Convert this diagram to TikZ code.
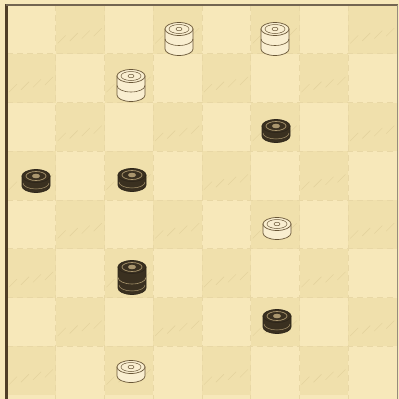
\documentclass[tikz,border=0pt]{standalone}
\begin{document}
\begin{tikzpicture}[x=1pt,y=-1pt]
\definecolor{paper}{RGB}{247,232,186}
\definecolor{darksq}{RGB}{240,224,172}
\definecolor{gridc}{RGB}{232,215,165}
\definecolor{hatchc}{RGB}{226,208,155}
\definecolor{frame}{RGB}{80,62,38}
\definecolor{wfill}{RGB}{249,238,208}
\definecolor{wline}{RGB}{105,86,55}
\definecolor{bfill}{RGB}{58,48,32}
\definecolor{bring}{RGB}{170,150,110}
\tikzset{
  whitebody/.style={fill=wfill,draw=wline,line width=0.7pt},
  blackbody/.style={fill=bfill,draw=bfill!80!black,line width=0.7pt},
  gridline/.style={draw=gridc,line width=0.6pt,dash pattern=on 6pt off 4pt},
  hatch/.style={draw=hatchc,line width=0.4pt}
}
\fill[paper] (0,0) rectangle (399,399);
\useasboundingbox (0,0) rectangle (399,399);
% dark squares
\foreach \r in {0,...,7}{
  \foreach \c in {0,...,7}{
    \pgfmathtruncatemacro{\odd}{mod(\r+\c,2)}
    \ifnum\odd=1
      \fill[darksq] ({7+48.75*\c},{5+48.75*\r}) rectangle ++(48.75,48.75);
      \begin{scope}[shift={({7+48.75*\c},{5+48.75*\r})}]
        \foreach \s in {8,20,32,44}{
          \draw[hatch] ({\s-6},{40-\s*0.2}) -- ({\s+2},{32-\s*0.2});
        }
      \end{scope}
    \fi
  }
}
% faint grid
\foreach \i in {1,...,7}{
  \draw[gridline] ({7+48.75*\i},5) -- ({7+48.75*\i},399);
  \draw[gridline] (7,{5+48.75*\i}) -- (397,{5+48.75*\i});
}
% frame
\draw[frame,line width=2.6pt] (6.5,4) -- (6.5,399);
\draw[frame!80,line width=1.4pt] (5.5,4.8) -- (397.5,4.8);
\draw[frame!60,line width=0.9pt] (397,4.8) -- (397,399);
% white pieces: x, y, side height
\foreach \px/\py/\h in {179/29/20, 275/29/20, 131/76/19, 277/224/9, 131/367/9}{
  \begin{scope}[shift={(\px,\py)}]
    \path[whitebody] (-14,0) -- (-14,\h) arc[start angle=180,end angle=0,x radius=14,y radius=6.5] -- (14,0) -- cycle;
    \ifnum\h>15
      \draw[wline,line width=0.6pt] (-14,{\h/2}) arc[start angle=180,end angle=0,x radius=14,y radius=6.5];
    \fi
    \path[whitebody] (0,0) ellipse[x radius=14,y radius=6.5];
    \draw[wline,line width=0.5pt] (0,0) ellipse[x radius=10,y radius=4.5];
    \draw[wline,line width=0.5pt] (0,0) ellipse[x radius=3,y radius=1.8];
  \end{scope}
}
% black pieces
\foreach \px/\py/\h in {276/126/10, 36/176/10, 132/175/10, 132/267/21, 277/316/11}{
  \begin{scope}[shift={(\px,\py)}]
    \path[blackbody] (-14,0) -- (-14,\h) arc[start angle=180,end angle=0,x radius=14,y radius=6.5] -- (14,0) -- cycle;
    \draw[bring,line width=0.5pt] (-13,{\h-3}) arc[start angle=180,end angle=0,x radius=13,y radius=6];
    \ifnum\h>15
      \draw[bring,line width=0.6pt] (-14,{\h/2}) arc[start angle=180,end angle=0,x radius=14,y radius=6.5];
    \fi
    \path[blackbody] (0,0) ellipse[x radius=14,y radius=6.5];
    \draw[bring,line width=0.7pt] (0,0) ellipse[x radius=10,y radius=4.5];
    \fill[bring] (0,0) ellipse[x radius=4,y radius=2.3];
  \end{scope}
}
\end{tikzpicture}
\end{document}
